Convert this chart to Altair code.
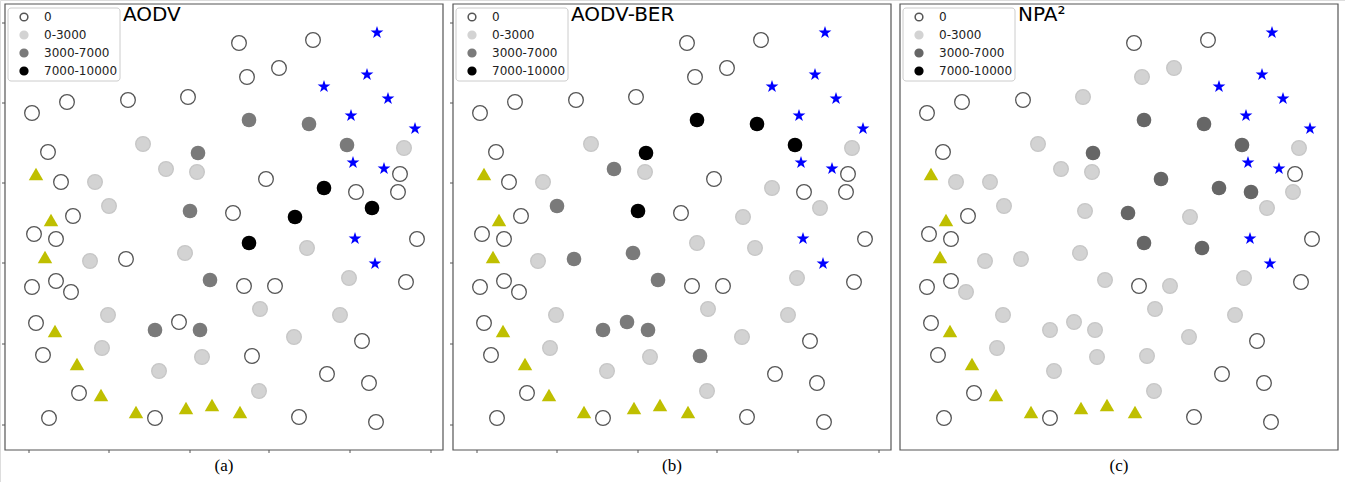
import altair as alt
import pandas as pd

# ---- data -----------------------------------------------------------------
# Node positions (same field layout in all three panels, panel-(a) pixel space)
node_x = [239, 313, 279, 247, 32, 67, 128, 188, 48, 61, 266, 356, 400, 398, 73, 233, 34, 56, 417,
          126, 56, 32, 71, 244, 275, 406, 36, 179, 362, 43, 252, 327, 369, 79, 49, 155, 299, 376,
          143, 166, 197, 95, 109, 404, 90, 185, 307, 349, 108, 260, 340, 102, 202, 294, 159, 259,
          249, 309, 347, 198, 190, 210, 155, 200,
          324, 295, 372, 249]
node_y = [43, 40, 68, 77, 113, 102, 100, 97, 152, 182, 179, 192, 174, 192, 216, 213, 234, 239, 239,
          259, 281, 287, 292, 286, 286, 282, 323, 322, 341, 355, 356, 374, 383, 393, 418, 418, 417, 422,
          144, 169, 172, 182, 206, 148, 261, 253, 248, 278, 315, 309, 315, 348, 357, 337, 371, 391,
          120, 124, 145, 153, 211, 280, 330, 330,
          188, 217, 208, 243]

# Load class per node: W = 0, L = 0-3000, D = 3000-7000, B = 7000-10000
cat_aodv = ("W W W W W W W W W W  W W W W W W W W W W  W W W W W W W W W W  "
            "W W W W W W W W L L  L L L L L L L L L L  L L L L L L D D D D  "
            "D D D D B B B B").split()
cat_ber = ("W W W W W W W W W W  W W W W W W W W W D  W W W W W W W D W W  "
           "D W W W W W W W L D  L L D L L D L L L L  L L L L L L B B B B  "
           "B D D D L L L L").split()
cat_npa = ("W W L L W W W L W L  D D W L W D W W W L  W W L W L W W L W W  "
           "L W W W W W W W L L  L L L L L L D L L L  L L L L L L D D D D  "
           "L L L L D L L D").split()

star_x = [377, 367, 324, 388, 351, 415, 353, 384, 355, 375]
star_y = [32, 74, 86, 98, 115, 128, 162, 168, 238, 263]
tri_x = [36, 51, 45, 55, 77, 101, 136, 186, 212, 240]
tri_y = [174, 220, 257, 331, 364, 395, 412, 408, 405, 412]

legend_labels = ["0", "0-3000", "3000-7000", "7000-10000"]
legend_codes = ["W", "L", "D", "B"]
panel_titles = ["AODV", "AODV-BER", "NPA²"]
panel_captions = ["(a)", "(b)", "(c)"]
panel_cats = [cat_aodv, cat_ber, cat_npa]

tick_x = [29, 109, 190, 269, 350, 431]
tick_y = [23, 103, 183, 263, 344, 425]

# ---- layout / style ---------------------------------------------------------
offsets = [0, 448, 895]          # horizontal shift of each panel
has_ticks = [True, True, False]
frame_l, frame_r, frame_t, frame_b = 5, 443, 4, 450
fill_of = [{"W": "#ffffff", "L": "#d3d3d3", "D": "#7a7a7a", "B": "#000000"},
           {"W": "#ffffff", "L": "#d3d3d3", "D": "#7a7a7a", "B": "#000000"},
           {"W": "#ffffff", "L": "#d3d3d3", "D": "#666666", "B": "#000000"}]
stroke_of = {"W": "#555555", "L": "#c6c6c6", "D": "none", "B": "none"}
STAR = ("M0,-0.905L0.2245,-0.214L0.9511,-0.214L0.3633,0.213L0.5878,0.904L0,0.477"
        "L-0.5878,0.904L-0.3633,0.213L-0.9511,-0.214L-0.2245,-0.214Z")

rows_n, rows_s, rows_t, rows_f, rows_tk, rows_leg, rows_txt = [], [], [], [], [], [], []
for i, off in enumerate(offsets):
    for x, y, c in zip(node_x, node_y, panel_cats[i]):
        rows_n.append({"px": x + off, "py": y, "fc": fill_of[i][c], "sc": stroke_of[c]})
    for x, y in zip(star_x, star_y):
        rows_s.append({"px": x + off, "py": y})
    for x, y in zip(tri_x, tri_y):
        rows_t.append({"px": x + off, "py": y})
    rows_f.append({"x1": frame_l + off, "x2": frame_r + off, "y1": frame_t, "y2": frame_b})
    if has_ticks[i]:
        for ty in tick_y:
            rows_tk.append({"x1": frame_l + off - 3, "x2": frame_l + off, "y1": ty, "y2": ty})
        for tx in tick_x:
            rows_tk.append({"x1": tx + off, "x2": tx + off, "y1": frame_b, "y2": frame_b + 3})
    for k, (lab, c) in enumerate(zip(legend_labels, legend_codes)):
        rows_leg.append({"px": 24 + off, "ly": 17 + 18 * k, "tx": 44 + off, "label": lab,
                         "fc": fill_of[i][c], "sc": "#555555" if c == "W" else fill_of[i][c]})
    rows_txt.append({"px": 123 + off, "title": panel_titles[i],
                     "cx": (frame_l + frame_r) / 2 + off, "cap": panel_captions[i]})

nodes = pd.DataFrame(rows_n)
stars = pd.DataFrame(rows_s)
tris = pd.DataFrame(rows_t)
frames = pd.DataFrame(rows_f)
ticks = pd.DataFrame(rows_tk)
legend = pd.DataFrame(rows_leg)
texts = pd.DataFrame(rows_txt)
boxes = frames.assign(lx1=frames.x1 + 3, lx2=frames.x1 + 115, ly1=8, ly2=81)

WIDTH, HEIGHT = 1345, 482
xs = alt.Scale(domain=[0, WIDTH], nice=False, zero=False)
ys = alt.Scale(domain=[HEIGHT, 0], nice=False, zero=False)
X = lambda f: alt.X(f, type="quantitative", scale=xs, axis=None)
Y = lambda f: alt.Y(f, type="quantitative", scale=ys, axis=None)

frame_layer = alt.Chart(frames).mark_rect(fill="white", stroke="#555555",
                                          strokeWidth=1.2).encode(
    x=X("x1"), x2="x2", y=Y("y1"), y2="y2")
tick_layer = alt.Chart(ticks).mark_rule(color="#555555", strokeWidth=1).encode(
    x=X("x1"), x2="x2", y=Y("y1"), y2="y2")
node_layer = alt.Chart(nodes).mark_point(shape="circle", filled=True, size=215,
                                         strokeWidth=1.3, opacity=1).encode(
    x=X("px"), y=Y("py"),
    fill=alt.Fill("fc:N", scale=None), stroke=alt.Stroke("sc:N", scale=None))
tri_layer = alt.Chart(tris).mark_point(shape="triangle-up", filled=True, size=210,
                                       color="#bfbf00", opacity=1).encode(x=X("px"), y=Y("py"))
star_layer = alt.Chart(stars).mark_point(shape=STAR, filled=True, size=180,
                                         color="#0000ff", opacity=1).encode(x=X("px"), y=Y("py"))
box_layer = alt.Chart(boxes).mark_rect(fill="white", stroke="#cccccc", strokeWidth=1,
                                       cornerRadius=3).encode(
    x=X("lx1"), x2="lx2", y=Y("ly1"), y2="ly2")
legsym_layer = alt.Chart(legend).mark_point(shape="circle", filled=True, size=60,
                                            strokeWidth=1.5, opacity=1).encode(
    x=X("px"), y=Y("ly"),
    fill=alt.Fill("fc:N", scale=None), stroke=alt.Stroke("sc:N", scale=None))
leglab_layer = alt.Chart(legend).mark_text(align="left", baseline="middle",
                                           font="DejaVu Sans", fontSize=12,
                                           color="#222222").encode(
    x=X("tx"), y=Y("ly"), text="label:N")
title_layer = alt.Chart(texts).mark_text(align="left", baseline="top", font="DejaVu Sans",
                                         fontSize=20, color="black").encode(
    x=X("px"), y=alt.value(5), text="title:N")
cap_layer = alt.Chart(texts).mark_text(align="center", baseline="middle",
                                       font="Liberation Serif", fontSize=17,
                                       color="black").encode(
    x=X("cx"), y=alt.value(466), text="cap:N")

chart = alt.layer(frame_layer, tick_layer, node_layer, tri_layer, star_layer, box_layer,
                  legsym_layer, leglab_layer, title_layer, cap_layer).properties(
    width=WIDTH, height=HEIGHT, padding=0,
    autosize=alt.AutoSizeParams(type="none")
).configure_view(strokeWidth=0).configure(background="white")

chart.save("out.html", embed_options={"renderer": "svg", "actions": False})
